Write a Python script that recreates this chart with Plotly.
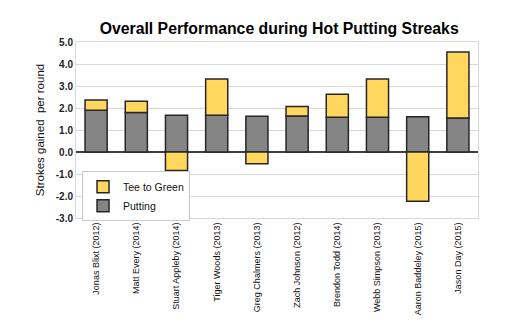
import plotly.graph_objects as go

players = ["Jonas Blixt (2012)", "Matt Every (2014)", "Stuart Appleby (2014)", "Tiger Woods (2013)",
           "Greg Chalmers (2013)", "Zach Johnson (2012)", "Brendon Todd (2014)", "Webb Simpson (2013)",
           "Aaron Baddeley (2015)", "Jason Day (2015)"]
putting = [1.90, 1.80, 1.67, 1.67, 1.63, 1.64, 1.58, 1.58, 1.60, 1.55]
tee_to_green = [0.46, 0.51, -0.84, 1.65, -0.53, 0.43, 1.05, 1.74, -2.24, 3.00]
y_ticks = [5, 4, 3, 2, 1, 0, -1, -2, -3]

fig = go.Figure()
fig.add_trace(go.Bar(x=players, y=putting, name="Putting",
                     marker=dict(color="#858585", line=dict(color="#262626", width=1.5))))
fig.add_trace(go.Bar(x=players, y=tee_to_green, name="Tee to Green",
                     marker=dict(color="#FFD75E", line=dict(color="#262626", width=1.5))))

fig.update_layout(
    width=517, height=330,
    barmode="relative", bargap=0.45,
    paper_bgcolor="white", plot_bgcolor="white",
    margin=dict(l=76, r=39, t=42, b=112),
    font=dict(family="Liberation Sans, Arial, sans-serif", color="#111"),
    title=dict(text="<b>Overall Performance during Hot Putting Streaks</b>",
               x=0.54, xanchor="center", y=0.915, yanchor="middle",
               font=dict(size=15.8, color="#000")),
    legend=dict(x=0.015, y=0.265, xanchor="left", yanchor="top",
                bgcolor="white", bordercolor="#c8c8c8", borderwidth=1,
                font=dict(size=10.5), traceorder="reversed",
                itemwidth=30, tracegroupgap=0),
    showlegend=True,
)
fig.update_xaxes(tickangle=-90, tickfont=dict(size=9), showline=True, linecolor="#d9d9d9",
                 mirror=True, showgrid=False, ticks="", zeroline=False)
fig.update_yaxes(range=[-3, 5], tickvals=y_ticks, ticktext=[f"<b>{v:.1f}</b>" for v in y_ticks],
                 tickfont=dict(size=10, family="Liberation Sans, Arial", color="#222"),
                 showgrid=True, gridcolor="#d9d9d9", gridwidth=1.2,
                 zeroline=True, zerolinecolor="#404040", zerolinewidth=1.5,
                 showline=True, linecolor="#d9d9d9", mirror=True,
                 title=dict(text="Strokes gained  per round", font=dict(size=11.5), standoff=8))

fig.write_html("out.html")
